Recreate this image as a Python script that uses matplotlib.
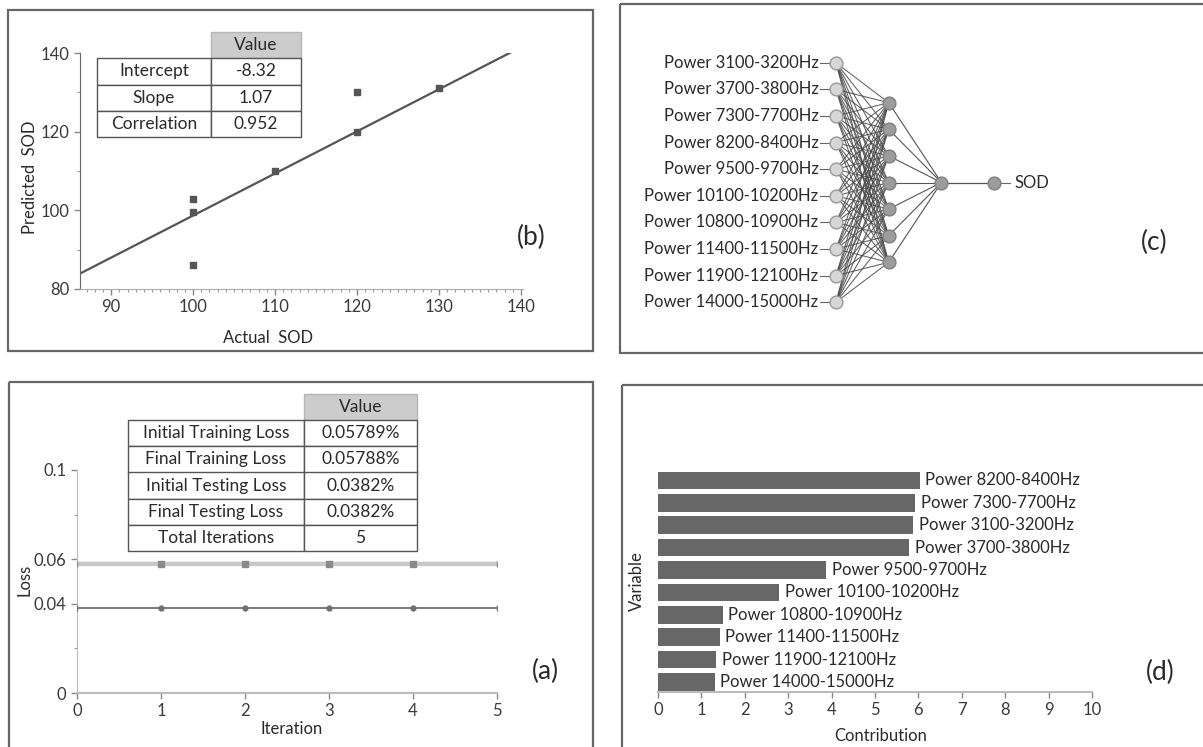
import numpy as np
import matplotlib
matplotlib.use("Agg")
import matplotlib.pyplot as plt
from matplotlib.patches import Rectangle

plt.rcParams['font.family'] = ['Lato', 'DejaVu Sans']

# ---------------- data ----------------
# (b) actual vs predicted
actual_sod = [100, 100, 100, 110, 120, 120, 130]
predicted_sod = [103, 99.5, 86, 110, 130, 120, 131]
fit_intercept = -8.32
fit_slope = 1.07
b_table_labels = ["Intercept", "Slope", "Correlation"]
b_table_values = ["-8.32", "1.07", "0.952"]

# (a) loss vs iteration
iterations = [0, 1, 2, 3, 4, 5]
training_loss = [0.05789, 0.05789, 0.05789, 0.05788, 0.05788, 0.05788]
testing_loss = [0.0382, 0.0382, 0.0382, 0.0382, 0.0382, 0.0382]
a_table_labels = ["Initial Training Loss", "Final Training Loss",
                  "Initial Testing Loss", "Final Testing Loss", "Total Iterations"]
a_table_values = ["0.05789%", "0.05788%", "0.0382%", "0.0382%", "5"]
a_yticks = [0, 0.04, 0.06, 0.1]
a_yticklabels = ["0", "0.04", "0.06", "0.1"]

# (c) network
input_names = ["Power 3100-3200Hz", "Power 3700-3800Hz", "Power 7300-7700Hz",
               "Power 8200-8400Hz", "Power 9500-9700Hz", "Power 10100-10200Hz",
               "Power 10800-10900Hz", "Power 11400-11500Hz", "Power 11900-12100Hz",
               "Power 14000-15000Hz"]
hidden_nodes = 7
output_name = "SOD"

# (d) contribution (top to bottom)
contrib_vars = ["Power 8200-8400Hz", "Power 7300-7700Hz", "Power 3100-3200Hz",
                "Power 3700-3800Hz", "Power 9500-9700Hz", "Power 10100-10200Hz",
                "Power 10800-10900Hz", "Power 11400-11500Hz", "Power 11900-12100Hz",
                "Power 14000-15000Hz"]
contrib_vals = [6.03, 5.92, 5.88, 5.79, 3.88, 2.79, 1.49, 1.42, 1.34, 1.31]

# ---------------- layout helpers ----------------
W, H = 1203, 747
fig = plt.figure(figsize=(W / 100, H / 100), dpi=100)

def rect(x0, y0, x1, y1):
    return [x0 / W, 1 - y1 / H, (x1 - x0) / W, (y1 - y0) / H]

TXT = '#2a2a2a'
TICK = '#3a3a3a'
FS = 12
LFS = 12
TFS = 12.5
PFS = 19

ov = fig.add_axes([0, 0, 1, 1], zorder=-5)
ov.set_xlim(0, W)
ov.set_ylim(H, 0)
ov.axis('off')
for (x0, y0, x1, y1) in [(8, 10, 593, 351), (620, 4, 1210, 353),
                         (9, 382, 593, 752), (622, 385, 1210, 752)]:
    ov.add_patch(Rectangle((x0, y0), x1 - x0, y1 - y0, fill=False,
                           edgecolor='#666666', lw=1.6))

def draw_table(px, labels, values, colw, fs):
    ax = fig.add_axes(rect(*px), zorder=5)
    ax.axis('off')
    tbl = ax.table(cellText=[[l, v] for l, v in zip(labels, values)],
                   colLabels=['', 'Value'], colWidths=colw,
                   bbox=[0, 0, 1, 1], cellLoc='center')
    tbl.auto_set_font_size(False)
    tbl.set_fontsize(fs)
    for (r, c), cell in tbl.get_celld().items():
        cell.set_edgecolor('#555555')
        cell.set_linewidth(1.0)
        cell.get_text().set_color(TXT)
        if r == 0 and c == 0:
            cell.set_visible(False)
        elif r == 0:
            cell.set_facecolor('#cccccc')
            cell.set_edgecolor('#b5b5b5')
    return ax

def style_ticks(ax):
    ax.tick_params(axis='both', which='major', labelsize=FS, labelcolor=TICK,
                   color='#888888', length=4, width=1)
    ax.tick_params(axis='both', which='minor', color='#999999', length=2.5, width=0.8)

# ---------------- panel (b) ----------------
axb = fig.add_axes(rect(80, 53, 523, 289))
axb.set_xlim(86.2, 140.25)
axb.set_ylim(80, 140)
xl = np.array([axb.get_xlim()[0], (140.3 - fit_intercept) / fit_slope])
axb.plot(xl, fit_intercept + fit_slope * xl, color='#555555', lw=1.6, zorder=2)
axb.plot(actual_sod, predicted_sod, 's', ms=4.5, color='#555555', zorder=3)
axb.set_xticks([90, 100, 110, 120, 130, 140])
axb.set_xticks(np.arange(87, 141, 1), minor=True)
axb.set_yticks([80, 100, 120, 140])
axb.set_yticks([90, 110, 130], minor=True)
for s in ['top', 'right']:
    axb.spines[s].set_visible(False)
axb.spines['left'].set_color('#666666')
axb.spines['bottom'].set_color('#aaaaaa')
style_ticks(axb)
axb.set_xlabel("Actual  SOD", fontsize=LFS, color=TXT)
axb.set_ylabel("Predicted  SOD", fontsize=LFS, color=TXT)
axb.xaxis.set_label_coords(0.424, -0.174)
axb.yaxis.set_label_coords(-0.095, 0.475)
draw_table((97, 32, 301, 137), b_table_labels, b_table_values, [114, 90], TFS)
fig.text(531 / W, 1 - 237 / H, "(b)", fontsize=PFS, color=TXT, ha='center', va='center')

# ---------------- panel (a) ----------------
axa = fig.add_axes(rect(77, 470, 497, 693))
axa.set_xlim(0, 5)
axa.set_ylim(0, 0.1)
axa.plot(iterations, training_loss, '-', color='#c8c8c8', lw=3.2, zorder=2)
axa.plot(iterations, training_loss, 's', ms=4.5, color='#8a8a8a',
         markevery=[1, 2, 3, 4], zorder=3)
axa.plot(iterations, training_loss, '|', ms=5, color='#8a8a8a',
         markevery=[0, 5], zorder=3)
axa.plot(iterations, testing_loss, '-', color='#707070', lw=1.3, zorder=2)
axa.plot(iterations, testing_loss, 'o', ms=3.5, color='#707070',
         markevery=[1, 2, 3, 4], zorder=3)
axa.plot(iterations, testing_loss, '|', ms=5, color='#707070',
         markevery=[0, 5], zorder=3)
axa.set_xticks(range(0, 6))
axa.set_yticks(a_yticks)
axa.set_yticklabels(a_yticklabels)
axa.set_yticks([0.02, 0.08], minor=True)
for s in ['top', 'right']:
    axa.spines[s].set_visible(False)
axa.spines['left'].set_color('#bbbbbb')
axa.spines['bottom'].set_color('#bbbbbb')
axa.spines['bottom'].set_linewidth(1.5)
style_ticks(axa)
axa.set_xlabel("Iteration", fontsize=LFS, color=TXT)
axa.set_ylabel("Loss", fontsize=LFS, color=TXT)
axa.xaxis.set_label_coords(0.51, -0.126)
axa.yaxis.set_label_coords(-0.107, 0.507)
draw_table((128, 394, 417, 551), a_table_labels, a_table_values, [176, 113], TFS)
fig.text(545 / W, 1 - 671 / H, "(a)", fontsize=PFS, color=TXT, ha='center', va='center')

# ---------------- panel (c) ----------------
axc = fig.add_axes(rect(621, 6, 1200, 351))
axc.axis('off')
ux, uy = 52.7, 26.6
axc.set_xlim(-(836 - 621) / ux, (1200 - 836) / ux)
axc.set_ylim(-(351 - 182.5) / uy, (182.5 - 6) / uy)
n_in = len(input_names)
y_in = (n_in - 1) / 2 - np.arange(n_in)
y_hid = (hidden_nodes - 1) / 2 - np.arange(hidden_nodes)
for yi in y_in:
    for yh in y_hid:
        axc.plot([0, 1], [yi, yh], color='#444444', lw=0.75, alpha=0.85, zorder=1)
for yh in y_hid:
    axc.plot([1, 2], [yh, 0], color='#555555', lw=0.8, zorder=1)
axc.plot([2, 3], [0, 0], color='#555555', lw=0.9, zorder=1)
axc.scatter(np.zeros(n_in), y_in, s=85, facecolor='#d6d6d6', edgecolor='#999999',
            lw=1, zorder=3)
axc.scatter(np.ones(hidden_nodes), y_hid, s=85, facecolor='#9c9c9c',
            edgecolor='#808080', lw=1, zorder=3)
axc.scatter([2, 3], [0, 0], s=85, facecolor='#9c9c9c', edgecolor='#808080',
            lw=1, zorder=3)
for name, yi in zip(input_names, y_in):
    axc.text(-0.33, yi, name, ha='right', va='center', fontsize=LFS, color=TXT)
    axc.plot([-0.30, -0.11], [yi, yi], color='#666666', lw=0.8, zorder=2)
axc.plot([3.11, 3.3], [0, 0], color='#666666', lw=0.8, zorder=2)
axc.text(3.38, 0, output_name, ha='left', va='center', fontsize=LFS, color=TXT)
fig.text(1154 / W, 1 - 242 / H, "(c)", fontsize=PFS, color=TXT, ha='center', va='center')

# ---------------- panel (d) ----------------
axd = fig.add_axes(rect(658, 470.4, 1092, 692))
n = len(contrib_vars)
ypos = np.arange(n)[::-1]
axd.barh(ypos, contrib_vals, height=0.79, color='#676767', zorder=2)
for yv, v, name in zip(ypos, contrib_vals, contrib_vars):
    axd.text(v + 0.13, yv, name, ha='left', va='center', fontsize=LFS, color=TXT)
axd.set_xlim(0, 10)
axd.set_ylim(-0.45, n - 0.55)
axd.set_xticks(range(0, 11))
axd.set_yticks([])
for s in ['top', 'right', 'left']:
    axd.spines[s].set_visible(False)
axd.spines['bottom'].set_color('#bbbbbb')
axd.spines['bottom'].set_linewidth(1.5)
style_ticks(axd)
axd.set_xlabel("Contribution", fontsize=LFS, color=TXT)
axd.set_ylabel("Variable", fontsize=LFS, color=TXT)
axd.xaxis.set_label_coords(0.514, -0.162)
axd.yaxis.set_label_coords(-0.03, 0.5)
fig.text(1160 / W, 1 - 672 / H, "(d)", fontsize=PFS, color=TXT, ha='center', va='center')

fig.savefig("out.png", dpi=100)
